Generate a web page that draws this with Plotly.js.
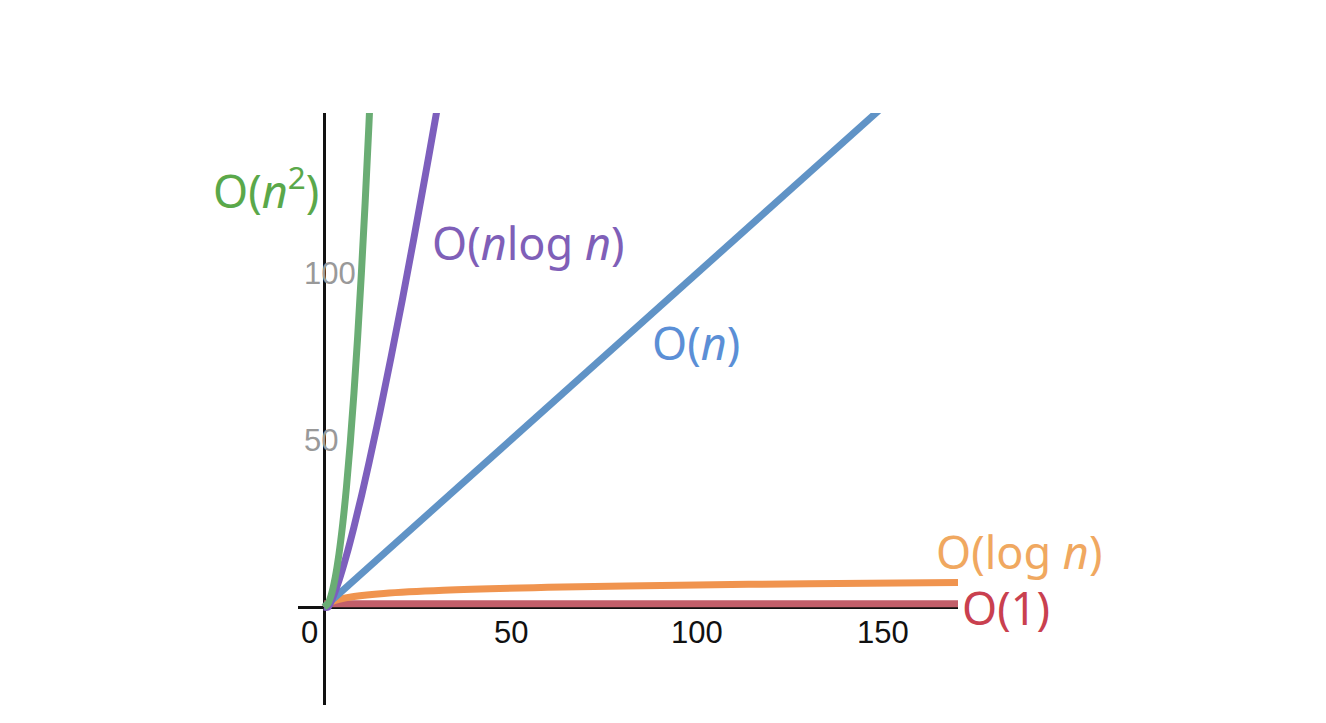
<!DOCTYPE html>
<html>
<head>
<meta charset="utf-8">
<script src="https://cdn.plot.ly/plotly-3.0.1.min.js"></script>
<style>html,body{margin:0;padding:0;background:#fff;}#chart{width:1326px;height:723px;}</style>
</head>
<body>
<div id="chart"></div>
<script>
// O(n^2)
const nSq = [0, 1, 2, 3, 4, 5, 6, 7, 8, 9, 10, 11, 12, 13];
const ySq = [0, 1, 4, 9, 16, 25, 36, 49, 64, 81, 100, 121, 144, 169];
// O(n log n)
const nNlog = [0, 1, 2, 4, 6, 8, 10, 12, 15, 18, 21, 24, 27, 30, 32];
const yNlog = [0, 0, 2, 8, 15.5, 24, 33.2, 43, 58.6, 75.1, 92.2, 110, 128.4, 147.2, 160];
// O(n)
const nLin = [0, 170];
const yLin = [0, 170];
// O(log n)
const nLog = [0, 1, 2, 4, 8, 16, 32, 64, 100, 130, 170];
const yLog = [0, 1, 1.58, 2.32, 3.17, 4.09, 5.04, 6.02, 6.66, 7.03, 7.42];
// O(1)
const nConst = [0, 170];
const yConst = [1, 1];

const xTickVals = [50, 100, 150];
const xTickText = ['50', '100', '150'];
const yTickVals = [50, 100];
const yTickText = ['50', '100'];

function tr(x, y, color) {
  return {x: x, y: y, type: 'scatter', mode: 'lines',
    line: {color: color, width: 7, shape: 'spline'}, hoverinfo: 'skip'};
}
const data = [
  tr(nConst, yConst, '#c25f6a'),
  tr(nLog, yLog, '#f0944f'),
  tr(nLin, yLin, '#6093c6'),
  tr(nNlog, yNlog, '#7d5fbd'),
  tr(nSq, ySq, '#6aad74')
];

const tf = 'Liberation Sans, Arial, sans-serif';
const annotations = [];
xTickVals.forEach((v, i) => annotations.push({x: v, y: -7.5, xref: 'x', yref: 'y', text: xTickText[i],
  xanchor: 'center', yanchor: 'middle',
  showarrow: false, font: {family: tf, size: 31, color: '#111'}}));
yTickVals.forEach((v, i) => annotations.push({x: -5.8, y: v, xref: 'x', yref: 'y', text: yTickText[i],
  xanchor: 'left', yanchor: 'middle', showarrow: false, font: {family: tf, size: 31, color: '#999'}}));
annotations.push({x: -3.8, y: -7.5, xref: 'x', yref: 'y', text: '0', showarrow: false,
  xanchor: 'center', yanchor: 'middle',
  font: {family: tf, size: 31, color: '#111'}});

const lf = 'Noto Sans, Open Sans, sans-serif';
// label positions in paper coordinates
const labels = [
  {x: -0.0485, y: 0.873, text: 'O(<i>n</i><sup>2</sup>)', color: '#5aa84a'},
  {x: 0.3485, y: 0.782, text: 'O(<i>n</i>log <i>n</i>)', color: '#7f5fb8'},
  {x: 0.6030, y: 0.613, text: 'O(<i>n</i>)', color: '#5b8fd6'},
  {x: 1.0924, y: 0.260, text: 'O(log <i>n</i>)', color: '#f0a860'},
  {x: 1.0727, y: 0.1655, text: 'O(1)', color: '#c9404f'}
];
labels.forEach(l => annotations.push({x: l.x, y: l.y, xref: 'paper', yref: 'paper', text: l.text,
  xanchor: 'center', yanchor: 'middle',
  showarrow: false, font: {family: lf, size: 45, color: l.color}}));

const layout = {
  width: 1326, height: 723,
  margin: {l: 298, r: 368, t: 113, b: 18},
  paper_bgcolor: '#fff', plot_bgcolor: '#fff',
  showlegend: false,
  xaxis: {range: [-7, 170], showgrid: false, showticklabels: false, ticks: '',
    zeroline: true, zerolinecolor: '#111', zerolinewidth: 3, showline: false, fixedrange: true},
  yaxis: {range: [-29.3, 148], showgrid: false, showticklabels: false, ticks: '',
    zeroline: true, zerolinecolor: '#111', zerolinewidth: 3, showline: false, fixedrange: true},
  annotations: annotations
};
Plotly.newPlot('chart', data, layout, {displayModeBar: false, staticPlot: true});
</script>
</body>
</html>
